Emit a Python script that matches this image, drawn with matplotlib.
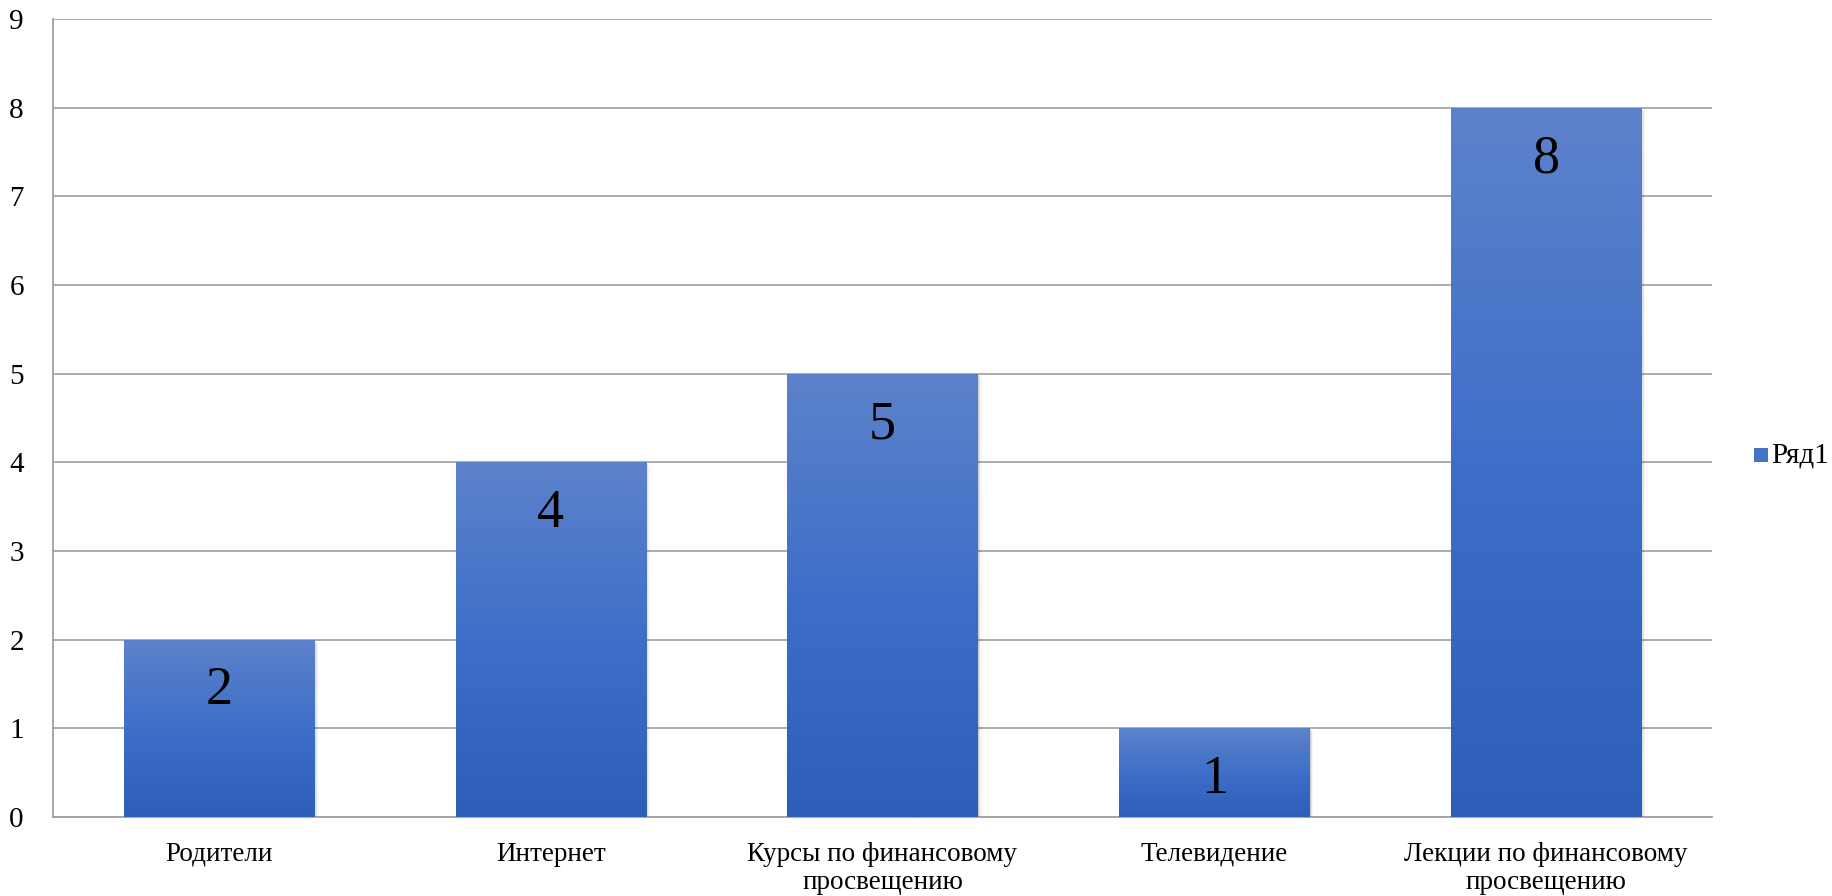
import matplotlib.pyplot as plt
import numpy as np
from matplotlib.colors import LinearSegmentedColormap
from matplotlib.patches import Rectangle

# источники информации и число ответов
categories = ["Родители", "Интернет", "Курсы по финансовому\nпросвещению",
              "Телевидение", "Лекции по финансовому\nпросвещению"]
values = [2, 4, 5, 1, 8]
series_name = "Ряд1"

plt.rcParams['font.family'] = ['Liberation Serif', 'DejaVu Serif']

fig = plt.figure(figsize=(18.32, 8.96), dpi=100)
ax = fig.add_axes([0.0289, 0.0882, 0.9056, 0.8906])

x = np.arange(len(categories))
width = 0.573

# градиент сверху вниз: светлый -> тёмный
grad = LinearSegmentedColormap.from_list(
    "bar_grad", ["#2d5fb8", "#3e6fc8", "#5d82cb"])
grad_img = np.linspace(0, 1, 256).reshape(-1, 1)

bars = ax.bar(x, values, width=width, color="none", zorder=3)
for b, v in zip(bars, values):
    x0, y0 = b.get_x(), b.get_y()
    w, h = b.get_width(), b.get_height()
    # мягкая тень справа и снизу
    for i, a in enumerate([0.10, 0.07, 0.04]):
        dx = 0.004 * (i + 1)
        sh = Rectangle((x0 + dx, y0 - 0.012 * (i + 1)), w, h,
                       facecolor="black", alpha=a, edgecolor="none", zorder=2)
        ax.add_patch(sh)
    im = ax.imshow(grad_img, cmap=grad, aspect="auto", origin="lower",
                   extent=(x0, x0 + w, y0, y0 + h), zorder=3)
    im.set_clip_path(b)
    ax.text(x0 + w / 2, v - 0.58, str(v), ha="center", va="center",
            fontsize=39, color="black", zorder=4)

ax.set_xlim(-0.5, len(categories) - 0.5)
ax.set_ylim(0, 9)
ax.set_yticks(range(0, 10))
ax.set_xticks(x)
ax.set_xticklabels(categories, fontsize=19.5, linespacing=1.18)
ax.tick_params(axis="y", length=0, pad=21, labelsize=21)
ax.tick_params(axis="x", length=0, pad=18)

ax.yaxis.grid(True, color="#a6a6a6", linewidth=1.3, zorder=0)
ax.set_axisbelow(True)
for s in ["top", "right"]:
    ax.spines[s].set_visible(False)
for s in ["left", "bottom"]:
    ax.spines[s].set_color("#a0a0a0")
    ax.spines[s].set_linewidth(1.3)

# легенда справа
fig.patches.append(Rectangle((1754 / 1832, 1 - 462 / 896), 14 / 1832, 14 / 896,
                             transform=fig.transFigure, facecolor="#4472c4",
                             edgecolor="none"))
fig.text(1771 / 1832, 1 - 455 / 896, series_name, fontsize=21,
         va="center", ha="left")

fig.savefig("out.png", dpi=100)
